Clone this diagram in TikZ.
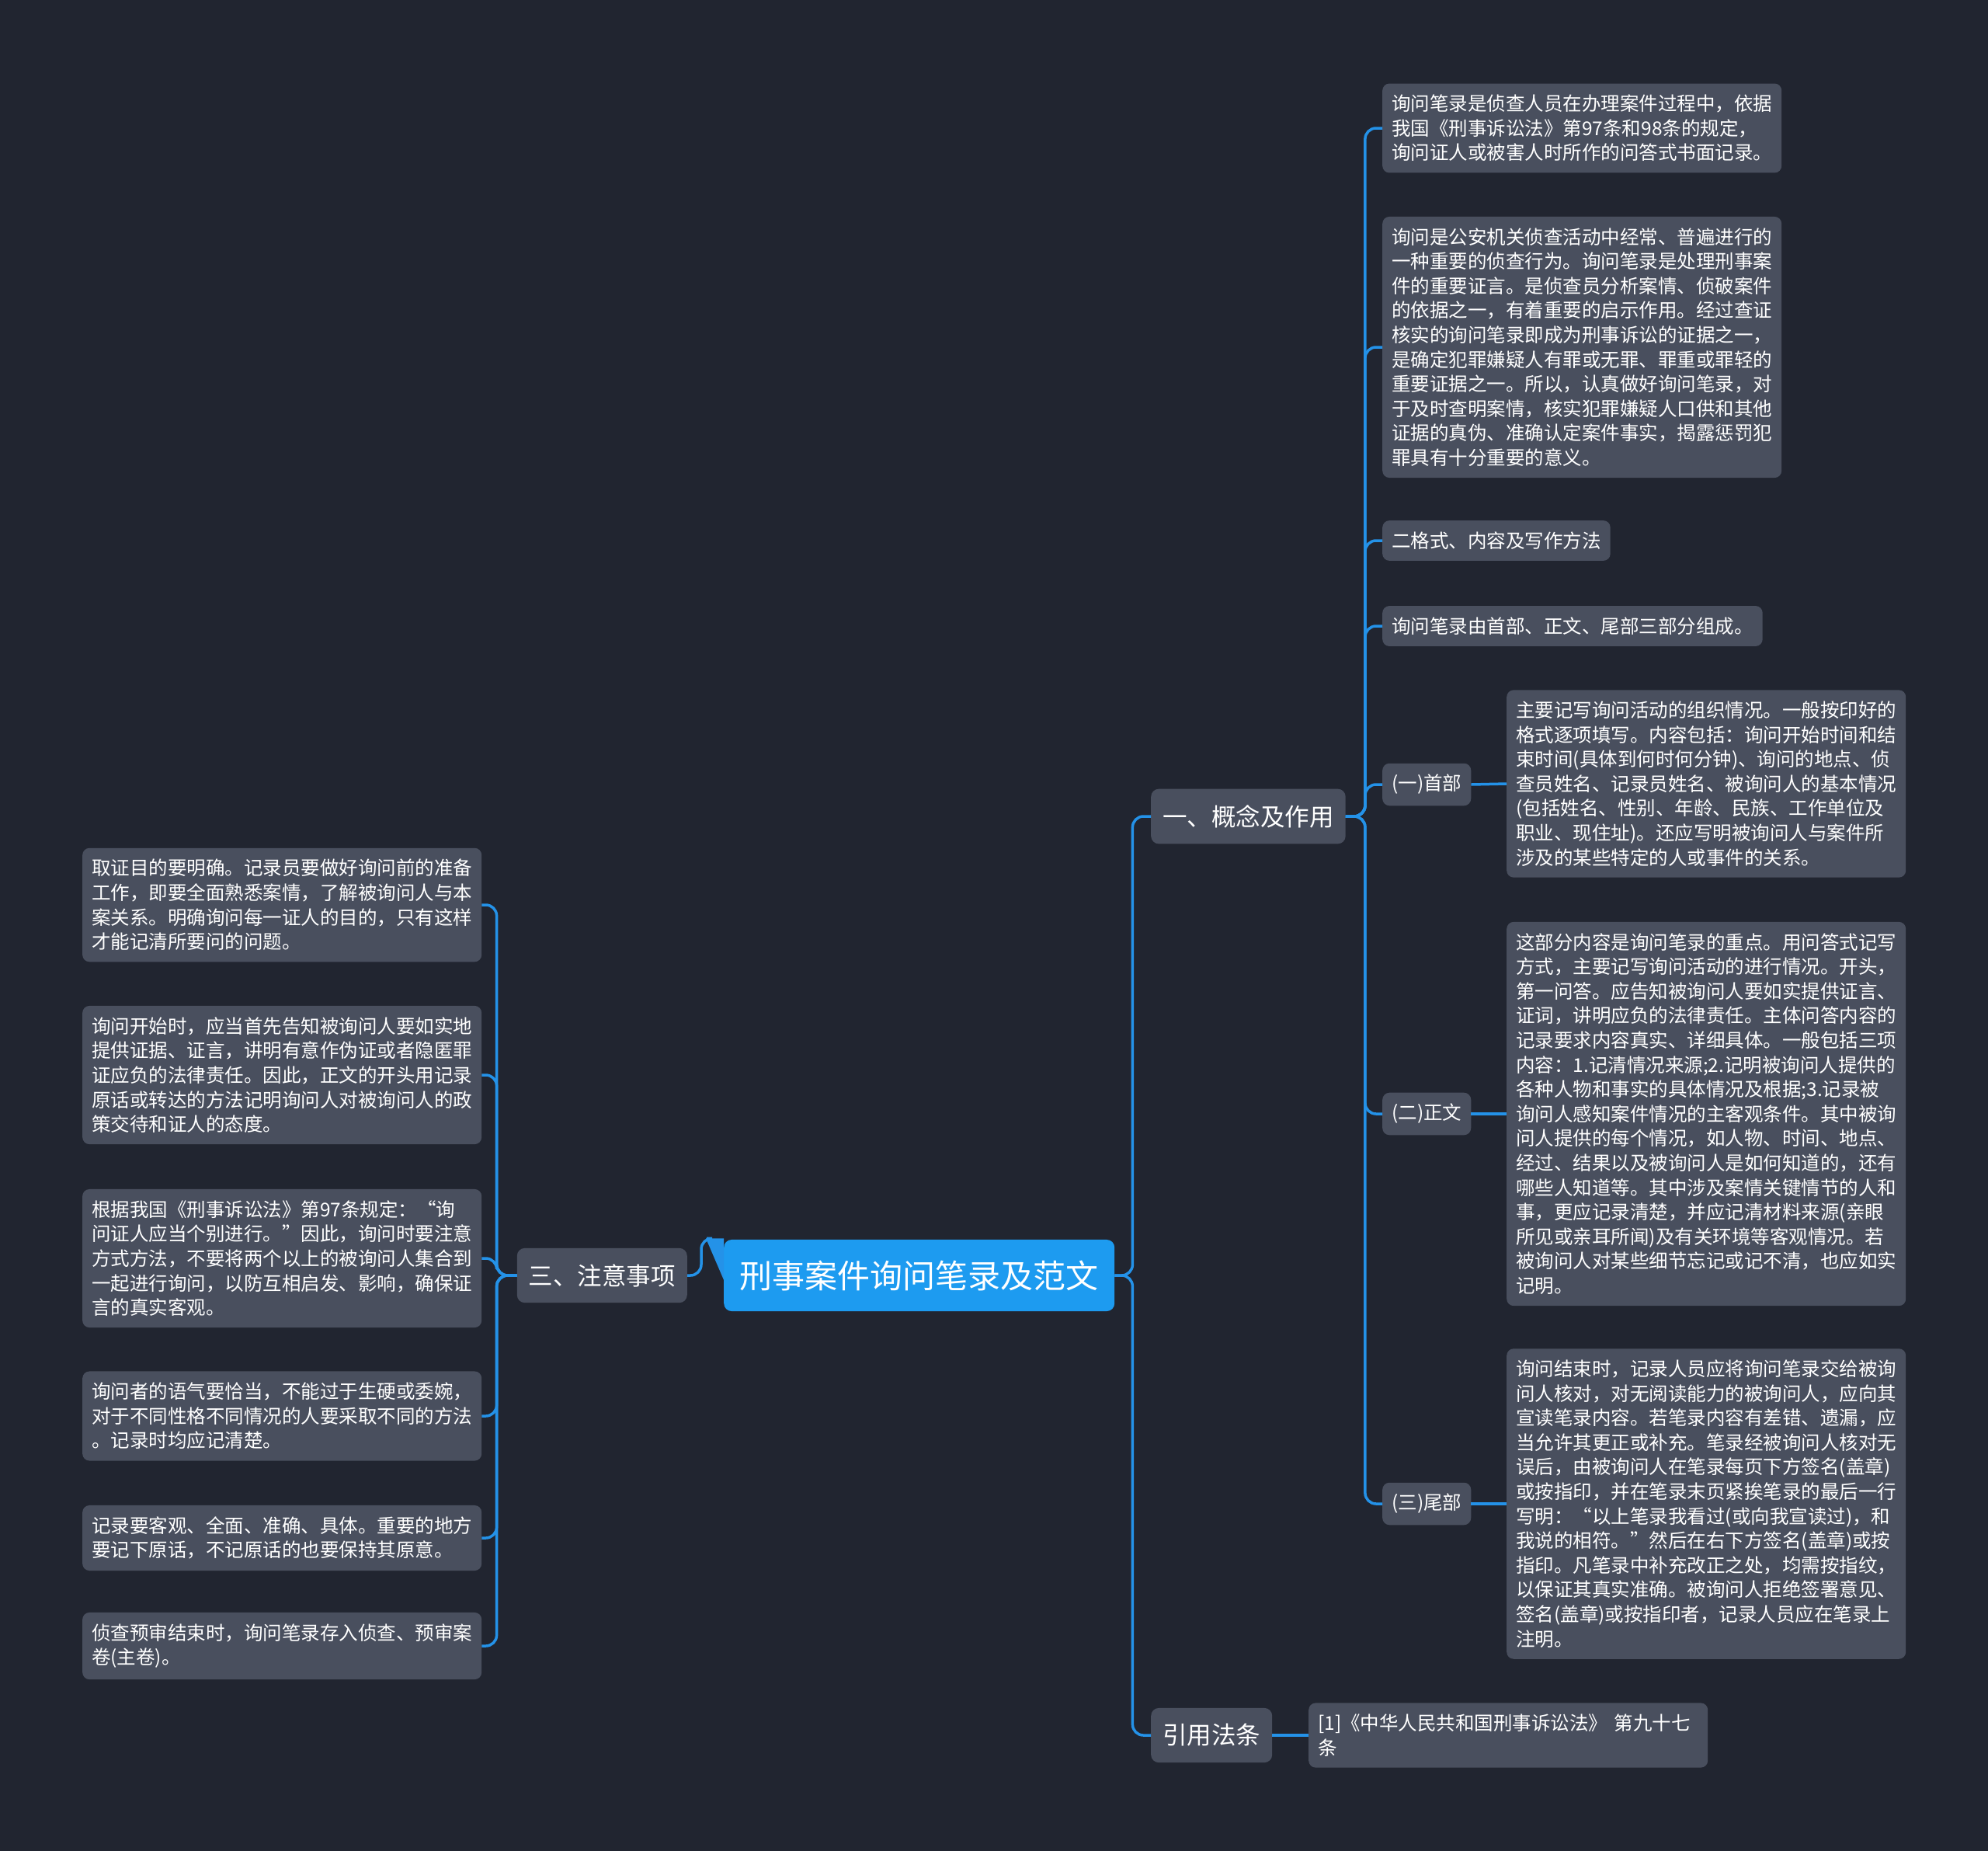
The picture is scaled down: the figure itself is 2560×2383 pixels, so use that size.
\documentclass[tikz,border=0pt]{standalone}
\usepackage{fontspec}
\setmainfont{Noto Sans CJK SC}
\definecolor{bgcol}{RGB}{33,37,48}
\definecolor{boxcol}{RGB}{73,79,94}
\definecolor{linecol}{RGB}{36,146,232}
\definecolor{maincol}{RGB}{29,155,240}
\tikzset{
  leaf/.style={fill=boxcol, rounded corners=9pt, text=white, anchor=west,
    inner xsep=12pt, inner ysep=14.5pt, text width=490pt, align=left,
    font=\fontsize{24.5}{31.6}\selectfont},
  shortleaf/.style={fill=boxcol, rounded corners=9pt, text=white, anchor=west,
    inner xsep=12pt, inner ysep=14.5pt,
    font=\fontsize{24.5}{31.6}\selectfont},
  lvlone/.style={fill=boxcol, rounded corners=10pt, text=white,
    inner xsep=15pt, inner ysep=20.5pt,
    font=\fontsize{31.5}{38}\selectfont},
  rootbox/.style={fill=maincol, rounded corners=10pt, text=white, anchor=west,
    inner xsep=20.5pt, inner ysep=26.5pt,
    font=\fontsize{42}{50}\selectfont},
  conn/.style={draw=linecol, line width=3.5pt, rounded corners=14pt}
}
\begin{document}
\begin{tikzpicture}[x=1pt,y=-1pt]
\fill[bgcol] (0,0) rectangle (2560,2383);
\useasboundingbox (0,0) rectangle (2560,2383);

% root
\node[rootbox] (root) at (932,1642) {刑事案件询问笔录及范文};

% level one
\node[lvlone, anchor=west] (gai) at (1482,1051) {一、概念及作用};
\node[lvlone, anchor=west] (yin) at (1482,2234) {引用法条};
\node[lvlone, anchor=east] (san) at (885,1642) {三、注意事项};

% right branch children
\node[leaf] (a) at (1780,165) {询问笔录是侦查人员在办理案件过程中，依据\\我国《刑事诉讼法》第97条和98条的规定，\\询问证人或被害人时所作的问答式书面记录。};
\node[leaf] (b) at (1780,447) {询问是公安机关侦查活动中经常、普遍进行的\\一种重要的侦查行为。询问笔录是处理刑事案\\件的重要证言。是侦查员分析案情、侦破案件\\的依据之一，有着重要的启示作用。经过查证\\核实的询问笔录即成为刑事诉讼的证据之一，\\是确定犯罪嫌疑人有罪或无罪、罪重或罪轻的\\重要证据之一。所以，认真做好询问笔录，对\\于及时查明案情，核实犯罪嫌疑人口供和其他\\证据的真伪、准确认定案件事实，揭露惩罚犯\\罪具有十分重要的意义。};
\node[shortleaf] (c) at (1780,696) {二格式、内容及写作方法};
\node[shortleaf] (d) at (1780,806) {询问笔录由首部、正文、尾部三部分组成。};
\node[shortleaf] (e) at (1780,1010) {(一)首部};
\node[shortleaf] (f) at (1780,1434) {(二)正文};
\node[shortleaf] (g) at (1780,1936) {(三)尾部};

\node[leaf] (e1) at (1940,1009) {主要记写询问活动的组织情况。一般按印好的\\格式逐项填写。内容包括：询问开始时间和结\\束时间(具体到何时何分钟)、询问的地点、侦\\查员姓名、记录员姓名、被询问人的基本情况\\(包括姓名、性别、年龄、民族、工作单位及\\职业、现住址)。还应写明被询问人与案件所\\涉及的某些特定的人或事件的关系。};
\node[leaf] (f1) at (1940,1434) {这部分内容是询问笔录的重点。用问答式记写\\方式，主要记写询问活动的进行情况。开头，\\第一问答。应告知被询问人要如实提供证言、\\证词，讲明应负的法律责任。主体问答内容的\\记录要求内容真实、详细具体。一般包括三项\\内容：1.记清情况来源;2.记明被询问人提供的\\各种人物和事实的具体情况及根据;3.记录被\\询问人感知案件情况的主客观条件。其中被询\\问人提供的每个情况，如人物、时间、地点、\\经过、结果以及被询问人是如何知道的，还有\\哪些人知道等。其中涉及案情关键情节的人和\\事，更应记录清楚，并应记清材料来源(亲眼\\所见或亲耳所闻)及有关环境等客观情况。若\\被询问人对某些细节忘记或记不清，也应如实\\记明。};
\node[leaf] (g1) at (1940,1936) {询问结束时，记录人员应将询问笔录交给被询\\问人核对，对无阅读能力的被询问人，应向其\\宣读笔录内容。若笔录内容有差错、遗漏，应\\当允许其更正或补充。笔录经被询问人核对无\\误后，由被询问人在笔录每页下方签名(盖章)\\或按指印，并在笔录末页紧挨笔录的最后一行\\写明：“以上笔录我看过(或向我宣读过)，和\\我说的相符。”然后在右下方签名(盖章)或按\\指印。凡笔录中补充改正之处，均需按指纹，\\以保证其真实准确。被询问人拒绝签署意见、\\签名(盖章)或按指印者，记录人员应在笔录上\\注明。};

\node[leaf] (y1) at (1685,2234) {[1]《中华人民共和国刑事诉讼法》~第九十七\\条};

% left branch children
\node[leaf] (l1) at (106,1165) {取证目的要明确。记录员要做好询问前的准备\\工作，即要全面熟悉案情，了解被询问人与本\\案关系。明确询问每一证人的目的，只有这样\\才能记清所要问的问题。};
\node[leaf] (l2) at (106,1384) {询问开始时，应当首先告知被询问人要如实地\\提供证据、证言，讲明有意作伪证或者隐匿罪\\证应负的法律责任。因此，正文的开头用记录\\原话或转达的方法记明询问人对被询问人的政\\策交待和证人的态度。};
\node[leaf] (l3) at (106,1620) {根据我国《刑事诉讼法》第97条规定：“询\\问证人应当个别进行。”因此，询问时要注意\\方式方法，不要将两个以上的被询问人集合到\\一起进行询问，以防互相启发、影响，确保证\\言的真实客观。};
\node[leaf] (l4) at (106,1823) {询问者的语气要恰当，不能过于生硬或委婉，\\对于不同性格不同情况的人要采取不同的方法\\。记录时均应记清楚。};
\node[leaf] (l5) at (106,1980) {记录要客观、全面、准确、具体。重要的地方\\要记下原话，不记原话的也要保持其原意。};
\node[leaf] (l6) at (106,2119) {侦查预审结束时，询问笔录存入侦查、预审案\\卷(主卷)。};

% connectors: root
\draw[conn] (root.east) -- ++(23,0) |- (gai.west);
\draw[conn] (root.east) -- ++(23,0) |- (yin.west);
\draw[conn] (san.east) -- ++(18,0) |- ([xshift=-22pt,yshift=1.5pt]root.north west);
\fill[linecol] ([xshift=-23pt,yshift=1.5pt]root.north west) -- ([yshift=1.5pt]root.north west) -- ([yshift=-52pt]root.north west) -- cycle;

% connectors: gai
\foreach \n in {a,b,c,d,e,f,g}{
  \draw[conn] (gai.east) -- ++(25,0) |- (\n.west);
}
\draw[conn] (e.east) -- (e1.west);
\draw[conn] (f.east) -- (f1.west);
\draw[conn] (g.east) -- (g1.west);
\draw[conn] (yin.east) -- (y1.west);

% connectors: san
\foreach \n in {l1,l2,l3,l4,l5,l6}{
  \draw[conn] (san.west) -- ++(-26,0) |- (\n.east);
}
\end{tikzpicture}
\end{document}
